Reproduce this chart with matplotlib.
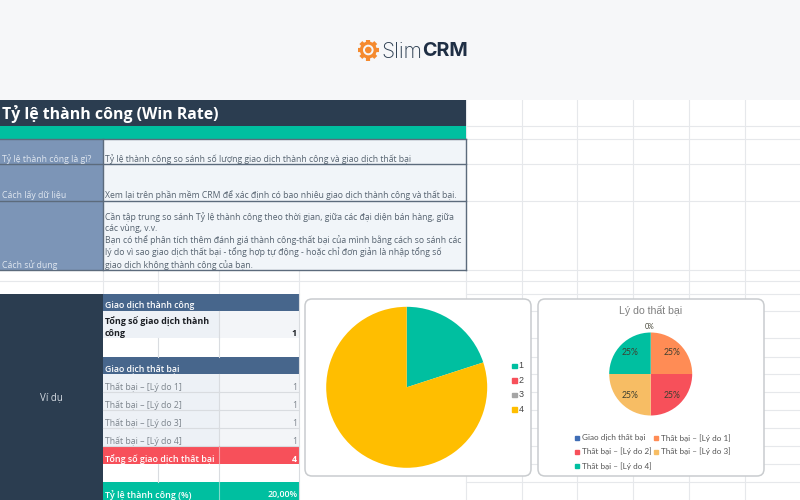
import matplotlib
matplotlib.use('Agg')
import matplotlib.pyplot as plt
from matplotlib.patches import Rectangle, FancyBboxPatch, Circle

# Data
title = 'Tỷ lệ thành công (Win Rate)'
info_labels = ['Tỷ lệ thành công là gì?', 'Cách lấy dữ liệu', 'Cách sử dụng']
info_texts = [
    'Tỷ lệ thành công so sánh số lượng giao dịch thành công và giao dịch thất bại',
    'Xem lại trên phần mềm CRM để xác định có bao nhiêu giao dịch thành công và thất bại.',
    'Cần tập trung so sánh Tỷ lệ thành công theo thời gian, giữa các đại diện bán hàng, giữa\n'
    'các vùng, v.v.\n'
    'Bạn có thể phân tích thêm đánh giá thành công-thất bại của mình bằng cách so sánh các\n'
    'lý do vì sao giao dịch thất bại - tổng hợp tự động - hoặc chỉ đơn giản là nhập tổng số\n'
    'giao dịch không thành công của bạn.',
]
won_header = 'Giao dịch thành công'
won_label = 'Tổng số giao dịch thành\ncông'
won_total = 1
lost_header = 'Giao dịch thất bại'
lost_labels = ['Thất bại – [Lý do 1]', 'Thất bại – [Lý do 2]', 'Thất bại – [Lý do 3]', 'Thất bại – [Lý do 4]']
lost_values = [1, 1, 1, 1]
lost_total_label = 'Tổng số giao dịch thất bại'
lost_total = 4
rate_label = 'Tỷ lệ thành công (%)'
rate_value = '20,00%'

win_categories = ['1', '2', '3', '4']
win_values = [1, 0, 0, 4]
reason_title = 'Lý do thất bại'
reason_categories = ['Giao dịch thất bại'] + lost_labels
reason_values = [0, 1, 1, 1, 1]

TEAL = '#00bfa0'
DARK = '#2b3d50'
STEEL = '#47668c'
SLATE = '#7c95b7'
RED = '#f7505a'
YELLOW = '#ffbe00'
FONT = ['Open Sans', 'Noto Sans', 'DejaVu Sans']

plt.rcParams['font.family'] = FONT

fig = plt.figure(figsize=(8, 5), dpi=100)
ax = fig.add_axes([0, 0, 1, 1])
ax.set_xlim(0, 800)
ax.set_ylim(500, 0)
ax.axis('off')


def box(x0, y0, x1, y1, color, **kw):
    ax.add_patch(Rectangle((x0, y0), x1 - x0, y1 - y0, facecolor=color, edgecolor='none', **kw))


def label(x, y, s, color='#5d6b7a', size=6.6, ha='left', va='bottom', **kw):
    ax.text(x, y, s, color=color, fontsize=size, ha=ha, va=va, zorder=5, **kw)


# Spreadsheet grid behind everything
for x in [466, 522, 577, 633, 689, 745]:
    ax.plot([x, x], [100, 500], color='#e6e8eb', lw=0.8, zorder=0.5)
for y in [126, 139, 164, 201, 270, 281, 294, 311, 338, 357, 374, 392, 410, 428, 446, 464, 482]:
    ax.plot([466, 800], [y, y], color='#e6e8eb', lw=0.8, zorder=0.5)
for x in [103, 158, 219, 299]:
    ax.plot([x, x], [270, 294], color='#e6e8eb', lw=0.8, zorder=0.5)
ax.plot([0, 466], [281, 281], color='#e6e8eb', lw=0.8, zorder=0.5)

# Page header and logo
box(0, 0, 800, 100, '#f6f7f9')
for i in range(8):
    ax.plot([368.3, 368.3 + 10.5 * [1, .71, 0, -.71, -1, -.71, 0, .71][i]],
            [50, 50 + 10.5 * [0, .71, 1, .71, 0, -.71, -1, -.71][i]],
            color='#f58a2e', lw=3, solid_capstyle='butt')
ax.add_patch(Circle((368.3, 50), 7.8, color='#f58a2e', zorder=3))
ax.add_patch(Circle((368.3, 50), 4.6, color='#f6f7f9', zorder=3))
ax.add_patch(Circle((368.3, 50), 2.6, color='#f58a2e', zorder=3))
ax.text(381.5, 51.5, 'Slim', family=['Inter', 'DejaVu Sans'], fontsize=15.2, weight='light',
        color='#2b3d50', ha='left', va='center')
ax.text(422.5, 51.5, 'CRM', family=['Inter', 'DejaVu Sans'], fontsize=14.2, weight='bold',
        color='#1f2f45', ha='left', va='center')

# Info block
box(0, 100, 466, 126, DARK)
box(0, 126, 466, 139, TEAL)
label(2, 123, title, color='white', size=11.4, weight='bold')
info_rows = [(139, 164), (164, 201), (201, 270)]
for (y0, y1), name, text in zip(info_rows, info_labels, info_texts):
    box(0, y0, 103, y1, SLATE)
    box(103, y0, 466, y1, '#f1f5f9')
    label(1.5, y1 - 0.5, name, color='#dfe6ef', size=6.3)
    label(105, y1 - 0.5, text, color='#55626f', size=6.25, linespacing=1.28)
    ax.plot([0, 466], [y1, y1], color='#5c6b7c', lw=1)
ax.plot([0, 466], [139, 139], color='#5c6b7c', lw=1)
ax.plot([103, 103], [139, 270], color='#5c6b7c', lw=1)
ax.plot([466, 466], [139, 270], color='#5c6b7c', lw=1)

# Example block
box(0, 294, 103, 500, DARK)
label(51, 398, 'Ví dụ', color='#d5dbe2', size=7, ha='center', va='center')

box(103, 294, 299, 311, STEEL)
label(105, 310, won_header, color='white', size=6.3, weight='semibold')
box(103, 311, 219, 338, '#edf1f6')
box(219, 311, 299, 338, '#f3f5f8')
ax.plot([219, 219], [311, 338], color='#d9dce0', lw=0.8)
label(105, 337.5, won_label, color='#1c1f24', size=6.4, weight='bold', linespacing=1.2)
label(297, 337.5, str(won_total), color='#1c1f24', size=6.4, ha='right', weight='bold')

box(103, 338, 299, 357, 'white')
ax.plot([158, 158], [338, 357], color='#d9dce0', lw=0.8)
ax.plot([219, 219], [338, 357], color='#d9dce0', lw=0.8)

box(103, 357, 299, 374, STEEL)
label(105, 373, lost_header, color='white', size=6.3, weight='semibold')
for i in range(len(lost_labels)):
    y0 = 374 + 18 * i
    box(103, y0, 219, y0 + 18, '#edf1f6')
    box(219, y0, 299, y0 + 18, '#f3f5f8')
    ax.plot([103, 299], [y0 + 18, y0 + 18], color='#d9dce0', lw=0.8)
    ax.plot([219, 219], [y0, y0 + 18], color='#d9dce0', lw=0.8)
    label(105, y0 + 17.5, lost_labels[i], color='#7d858d', size=6.3)
    label(297, y0 + 17.5, str(lost_values[i]), color='#7d858d', size=6.3, ha='right')

box(103, 446, 299, 464, RED)
ax.plot([219, 219], [446, 464], color='#f3a0a4', lw=0.8)
label(105, 463.5, lost_total_label, color='white', size=6.4, weight='semibold')
label(297, 463.5, str(lost_total), color='white', size=6.4, ha='right', weight='bold')

box(103, 464, 299, 482, 'white')
ax.plot([158, 158], [464, 482], color='#d9dce0', lw=0.8)
ax.plot([219, 219], [464, 482], color='#d9dce0', lw=0.8)
box(103, 482, 299, 500, TEAL)
ax.plot([219, 219], [482, 500], color='#7fdccb', lw=0.8)
label(105, 499.5, rate_label, color='white', size=6.4, weight='semibold')
label(298, 499.5, rate_value, color='white', size=6.4, ha='right', weight='semibold')
ax.plot([299, 299], [294, 500], color='#d9dce0', lw=0.8)

# Chart cards
for x0 in [305, 538]:
    ax.add_patch(FancyBboxPatch((x0 + 6, 305), 214, 165, boxstyle='round,pad=6,rounding_size=7',
                                facecolor='white', edgecolor='#c9cccf', lw=1.1, zorder=3))


def pie_axes(cx, cy, r):
    # axes box in pixels, centred on the pie
    pie_ax = fig.add_axes([(cx - r) / 800, 1 - (cy + r) / 500, 2 * r / 800, 2 * r / 500])
    pie_ax.set_facecolor('none')
    return pie_ax


# Win pie
ax1 = pie_axes(406.7, 387.3, 80.5)
win_colors = [TEAL, RED, '#a5a5a5', YELLOW]
ax1.pie(win_values, colors=win_colors, startangle=90, counterclock=False, radius=1)
ax1.set_xlim(-1, 1)
ax1.set_ylim(-1, 1)
for i, (name, color) in enumerate(zip(win_categories, win_colors)):
    y = 366 + 14.4 * i
    ax.add_patch(Rectangle((512, y - 2.3), 4.6, 4.6, color=color, zorder=4))
    label(518.5, y, name, color='#444444', size=6.4, va='center', family=['Liberation Sans'])

# Reasons pie
ax2 = pie_axes(650.7, 374, 41.5)
reason_colors = ['#3f6db5', '#ff8c55', RED, '#f7bd64', TEAL]
wedges, texts, autotexts = ax2.pie(reason_values, colors=reason_colors, startangle=90, counterclock=False,
                                   radius=1, autopct='%.0f%%', pctdistance=0.72)
ax2.set_xlim(-1, 1)
ax2.set_ylim(-1, 1)
for t, v in zip(autotexts, reason_values):
    t.set_fontsize(6.2)
    t.set_color('#3f3f30')
    t.set_family(['Lato', 'DejaVu Sans'])
    if v == 0:
        t.set_position((-0.02, 1.14))
        t.set_fontsize(5)
label(651, 311, reason_title, color='#808080', size=7.6, ha='center', va='center', family=['Liberation Sans'])

legend_pos = [(576.7, 437.7), (655.7, 437.7), (576.7, 451.5), (655.7, 451.5), (576.7, 466)]
for (x, y), name, color in zip(legend_pos, reason_categories, reason_colors):
    ax.add_patch(Rectangle((x - 2, y - 2), 4, 4, color=color, zorder=4))
    label(x + 5, y, name, color='#555555', size=5.9, va='center', family=['Lato', 'Noto Sans'])

fig.savefig('out.png', dpi=100)
